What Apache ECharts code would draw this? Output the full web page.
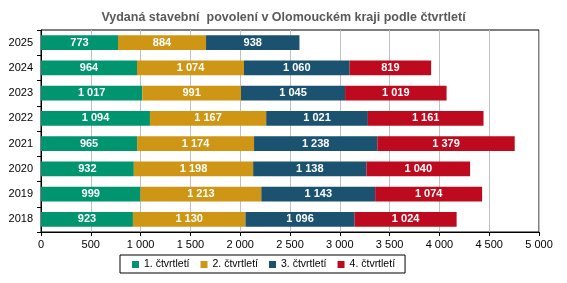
<!DOCTYPE html>
<html><head><meta charset="utf-8">
<script src="https://cdn.jsdelivr.net/npm/echarts@6/dist/echarts.min.js"></script>
<style>html,body{margin:0;padding:0;background:#fff}#c{width:567px;height:283px}</style>
</head><body><div id="c"></div>
<script>
const years = ['2018','2019','2020','2021','2022','2023','2024','2025'];
const seriesNames = ['1. čtvrtletí','2. čtvrtletí','3. čtvrtletí','4. čtvrtletí'];
const q1 = [923, 999, 932, 965, 1094, 1017, 964, 773];
const q2 = [1130, 1213, 1198, 1174, 1167, 991, 1074, 884];
const q3 = [1096, 1143, 1138, 1238, 1021, 1045, 1060, 938];
const q4 = [1024, 1074, 1040, 1379, 1161, 1019, 819, null];
const colors = ['#00956F','#CF9615','#1B5270','#BE0A1F'];
const xTicks = {min: 0, max: 5000, interval: 500};

function fmt(v){ return String(v).replace(/\B(?=(\d{3})+(?!\d))/g, '\u00a0'); }

const chart = echarts.init(document.getElementById('c'));
const data = [q1,q2,q3,q4];
chart.setOption({
  animation: false,
  textStyle: {fontFamily: 'Liberation Sans, Arial, sans-serif'},
  title: {text: 'Vydaná stavební  povolení v Olomouckém kraji podle čtvrtletí', left: 'center', top: 6,
    textStyle: {fontSize: 12.5, fontWeight: 'bold', color: '#595959', fontFamily: 'Liberation Sans, Arial, sans-serif'}},
  grid: {left: 41, right: 28, top: 30, bottom: 51, show: true, borderColor: '#000', borderWidth: 1},
  legend: {bottom: 10, left: 120, itemWidth: 7, itemHeight: 7, itemGap: 11, icon: 'rect',
    borderColor: '#000', borderWidth: 1, padding: [4, 10, 3, 12],
    textStyle: {fontSize: 10.5, color: '#000'}, data: seriesNames},
  xAxis: {type: 'value', min: xTicks.min, max: xTicks.max, interval: xTicks.interval,
    axisLine: {show: true, lineStyle: {color: '#000'}},
    axisTick: {show: true, length: 4, lineStyle: {color: '#000'}},
    splitLine: {show: true, lineStyle: {color: '#c0c0c0'}},
    axisLabel: {fontSize: 11, color: '#000', margin: 7, formatter: v => fmt(v)}},
  yAxis: {type: 'category', data: years,
    axisLine: {show: true, lineStyle: {color: '#000'}},
    axisTick: {show: true, length: 4, lineStyle: {color: '#000'}},
    axisLabel: {fontSize: 11, color: '#000', margin: 8}},
  series: data.map((d, i) => ({
    name: seriesNames[i], type: 'bar', stack: 'total', data: d, barWidth: '58%',
    itemStyle: {color: colors[i]},
    label: {show: true, position: 'inside', color: '#fff', fontWeight: 'bold', fontSize: 11,
      formatter: p => p.value == null ? '' : fmt(p.value)}
  }))
});
</script></body></html>
